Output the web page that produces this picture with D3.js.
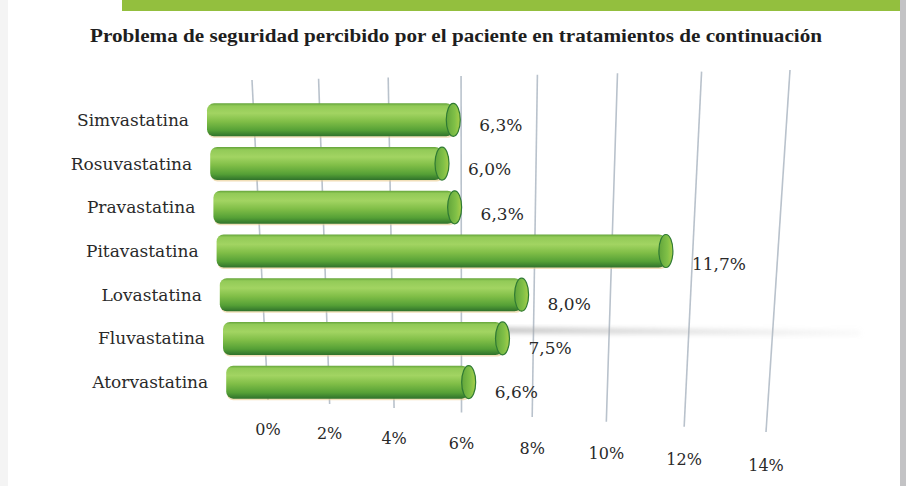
<!DOCTYPE html>
<html>
<head>
<meta charset="utf-8">
<script src="https://cdn.jsdelivr.net/npm/d3@7"></script>
<style>
  body { margin: 0; background: #fff; }
  svg { display: block; }
</style>
</head>
<body>
<svg id="chart" width="906" height="486"></svg>
<script>
// datos
var farmacos = ["Simvastatina", "Rosuvastatina", "Pravastatina", "Pitavastatina", "Lovastatina", "Fluvastatina", "Atorvastatina"];
var valores = [6.3, 6.0, 6.3, 11.7, 8.0, 7.5, 6.6];
var etiquetas = ["6,3%", "6,0%", "6,3%", "11,7%", "8,0%", "7,5%", "6,6%"];
var ticks = [0, 2, 4, 6, 8, 10, 12, 14];
var titulo = "Problema de seguridad percibido por el paciente en tratamientos de continuación";

var svg = d3.select("#chart");
var W = 906, H = 486;

// cabecera verde y borde gris
svg.append("rect").attr("x", 0).attr("y", 0).attr("width", 8).attr("height", H).attr("fill", "#f4f4f4");
svg.append("rect").attr("x", 122).attr("y", 0).attr("width", 779).attr("height", 11).attr("fill", "#93bf3e");
svg.append("rect").attr("x", 900).attr("y", 0).attr("width", 6).attr("height", H).attr("fill", "#c3c3c5");

svg.append("text")
    .attr("x", 456).attr("y", 42)
    .attr("text-anchor", "middle")
    .attr("font-family", "Liberation Serif, serif")
    .attr("font-weight", "bold")
    .attr("font-size", 19)
    .attr("textLength", 732)
    .attr("lengthAdjust", "spacingAndGlyphs")
    .attr("fill", "#1e1e1e")
    .text(titulo);

var defs = svg.append("defs");

// perspectiva del eje (3D de Excel)
var k = 1.18;
var scU = d3.scaleLinear().domain([0, 14]).range([0, 1]);
function persp(v) { var u = scU(v); return u / (u + k * (1 - u)); }
var scTopX = d3.scaleLinear().domain([0, 1]).range([252, 790]);
var scTopY = d3.scaleLinear().domain([0, 1]).range([80, 70]);
var scBotX = d3.scaleLinear().domain([0, 1]).range([268, 766]);
var scBotY = d3.scaleLinear().domain([0, 1]).range([400, 432]);
var scLblY = d3.scaleLinear().domain([0, 1]).range([435, 471]);

// lineas de division
svg.selectAll("line.grid")
    .data(ticks)
    .enter()
    .append("line")
    .attr("class", "grid")
    .attr("x1", d => scTopX(persp(d))).attr("y1", d => scTopY(persp(d)))
    .attr("x2", d => scBotX(persp(d))).attr("y2", d => scBotY(persp(d)))
    .attr("stroke", "#b9c2cc")
    .attr("stroke-width", 1.6);

// sombra del suelo
var blur = defs.append("filter").attr("id", "blur").attr("x", "-10%").attr("y", "-200%").attr("width", "120%").attr("height", "500%");
blur.append("feGaussianBlur").attr("stdDeviation", 2.5);
var gSh = defs.append("linearGradient").attr("id", "gsh");
gSh.append("stop").attr("offset", "0%").attr("stop-color", "#a0a0a0").attr("stop-opacity", 0.8);
gSh.append("stop").attr("offset", "100%").attr("stop-color", "#c0c0c0").attr("stop-opacity", 0.1);

// filas
var scY = d3.scalePoint().domain(farmacos).range([98, 404]).padding(0.5);
var barH = 33;

function scRow(i) {
    var x0 = 207 + 3.2 * i;
    var px = 40.2 - 0.4 * i;
    return d3.scaleLinear().domain([0, 14]).range([x0, x0 + 14 * px]);
}

var gBar = defs.append("linearGradient").attr("id", "gbar").attr("x1", 0).attr("y1", 0).attr("x2", 0).attr("y2", 1);
[["0%", "#64a43a"], ["8%", "#92ca57"], ["30%", "#a2d462"], ["55%", "#80be47"], ["82%", "#55a036"], ["100%", "#2f722b"]]
    .forEach(s => gBar.append("stop").attr("offset", s[0]).attr("stop-color", s[1]));
var gCap = defs.append("linearGradient").attr("id", "gcap").attr("x1", 0).attr("y1", 0).attr("x2", 1).attr("y2", 0);
[["0%", "#62a53b"], ["60%", "#80c047"], ["100%", "#a9cf4a"]]
    .forEach(s => gCap.append("stop").attr("offset", s[0]).attr("stop-color", s[1]));

var filas = farmacos.map((f, i) => ({ nombre: f, v: valores[i], txt: etiquetas[i], i: i }));

svg.append("path")
    .attr("d", d3.line()([[470, 330], [860, 333]]))
    .attr("stroke", "url(#gsh)")
    .attr("stroke-width", 5)
    .attr("filter", "url(#blur)");

var g = svg.selectAll("g.fila")
    .data(filas)
    .enter()
    .append("g")
    .attr("class", "fila");

var rx = 7;

g.append("rect")
    .attr("x", d => scRow(d.i)(0) + 1)
    .attr("y", d => scY(d.nombre) - barH / 2 + 1.5)
    .attr("width", d => scRow(d.i)(d.v) - scRow(d.i)(0) - rx)
    .attr("height", barH)
    .attr("rx", 6)
    .attr("fill", "#e8c98a")
    .attr("opacity", 0.6);

g.append("rect")
    .attr("x", d => scRow(d.i)(0))
    .attr("y", d => scY(d.nombre) - barH / 2)
    .attr("width", d => scRow(d.i)(d.v) - scRow(d.i)(0) - rx)
    .attr("height", barH)
    .attr("rx", 7)
    .attr("fill", "url(#gbar)");

g.append("ellipse")
    .attr("cx", d => scRow(d.i)(d.v) - rx)
    .attr("cy", d => scY(d.nombre))
    .attr("rx", rx)
    .attr("ry", barH / 2)
    .attr("fill", "url(#gcap)")
    .attr("stroke", "#2f7a33")
    .attr("stroke-width", 1.2);

g.append("text")
    .attr("x", d => scRow(d.i)(0) - 18)
    .attr("y", d => scY(d.nombre) + 6)
    .attr("text-anchor", "end")
    .attr("font-family", "DejaVu Serif, serif")
    .attr("font-size", 17)
    .attr("fill", "#2a2a2a")
    .text(d => d.nombre);

g.append("text")
    .attr("x", d => scRow(d.i)(d.v) + 19)
    .attr("y", d => scY(d.nombre) + 11 + d.i * 0.6 + (scRow(d.i)(d.v) - 450) * 0.03)
    .attr("font-family", "DejaVu Serif, serif")
    .attr("font-size", 17)
    .attr("fill", "#2a2a2a")
    .text(d => d.txt);

// etiquetas del eje
svg.selectAll("text.tick")
    .data(ticks)
    .enter()
    .append("text")
    .attr("class", "tick")
    .attr("x", d => scBotX(persp(d)))
    .attr("y", d => scLblY(persp(d)))
    .attr("text-anchor", "middle")
    .attr("font-family", "DejaVu Serif, serif")
    .attr("font-size", 16)
    .attr("fill", "#2a2a2a")
    .text(d => d + "%");
</script>
</body>
</html>
